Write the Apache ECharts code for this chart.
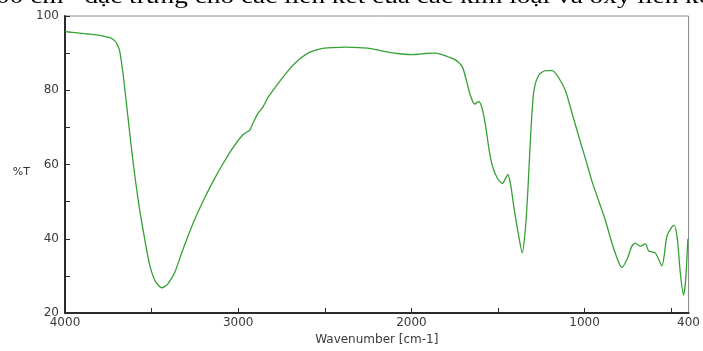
<!DOCTYPE html>
<html>
<head>
<meta charset="utf-8">
<script src="https://cdn.jsdelivr.net/npm/echarts@6/dist/echarts.min.js"></script>
<style>
  html, body { margin: 0; padding: 0; background: #fff; }
  #chart { width: 703px; height: 351px; }
</style>
</head>
<body>
<div id="chart"></div>
<script>
// FTIR spectrum: wavenumber (cm-1) vs transmittance (%T)
const wavenumbers = [
  4000, 3960, 3920, 3880, 3856, 3820, 3780, 3741, 3712, 3695,
  3683, 3664, 3645, 3626, 3607, 3587, 3568, 3549, 3529, 3510,
  3482, 3460, 3443, 3425, 3405, 3366, 3319, 3261, 3203, 3146,
  3088, 3031, 2973, 2945, 2934, 2915, 2887, 2858, 2829, 2781,
  2723, 2665, 2589, 2512, 2450, 2377, 2300, 2243, 2180, 2128,
  2080, 2040, 2000, 1960, 1920, 1880, 1860, 1840, 1810, 1782,
  1760, 1735, 1706, 1686, 1667, 1648, 1633, 1620, 1610, 1591,
  1571, 1552, 1533, 1504, 1475, 1456, 1443, 1427, 1408, 1383,
  1360, 1341, 1326, 1312, 1293, 1264, 1225, 1187, 1149, 1110,
  1072, 1034, 995, 957, 918, 880, 842, 803, 784, 755,
  727, 707, 678, 649, 630, 592, 554, 525, 496, 482,
  464, 448, 429, 416, 404, 400
];
const transmittance = [
  95.8, 95.6, 95.4, 95.2, 95.1, 94.9, 94.6, 94.2, 93.3, 92.0,
  90.3, 84.1, 76.3, 68.4, 60.6, 53.6, 47.5, 42.3, 37.1, 32.7,
  28.8, 27.4, 26.8, 27.1, 27.9, 31.0, 37.1, 44.1, 50.1, 55.4,
  60.2, 64.5, 68.0, 68.9, 69.2, 71.1, 73.7, 75.4, 78.0, 81.1,
  84.6, 87.6, 90.2, 91.3, 91.5, 91.6, 91.5, 91.3, 90.7, 90.2,
  89.9, 89.7, 89.6, 89.7, 89.9, 90.0, 90.0, 89.8, 89.4, 88.9,
  88.5, 87.8, 86.3, 83.3, 79.8, 77.2, 76.3, 76.8, 76.9, 75.0,
  70.2, 64.1, 59.7, 56.3, 54.9, 56.3, 57.3, 54.5, 48.4, 41.4,
  36.2, 43.2, 54.5, 67.6, 79.8, 84.1, 85.3, 85.3, 83.3, 79.8,
  73.7, 67.6, 61.5, 55.4, 50.1, 44.9, 38.8, 33.6, 32.3, 34.5,
  38.0, 38.8, 38.0, 38.6, 36.7, 36.2, 32.7, 40.6, 43.2, 43.6,
  39.7, 31.0, 24.9, 29.2, 39.7, 40.0
];

// Axis labels and tick positions
const xLabelValues = [4000, 3000, 2000, 1000, 400];
const xTickValues = [4000, 3500, 3000, 2500, 2000, 1500, 1000, 500];
const yLabelValues = [20, 40, 60, 80, 100];
const yTickValues = [20, 30, 40, 50, 60, 70, 80, 90, 100];

const xAxisTitle = 'Wavenumber [cm-1]';
const yAxisTitle = '%T';
const captionPre = '00 cm';
const captionSup = '-1';
const captionPost = ' đặc trưng cho các liên kết của các kim loại và oxy liên kết';

const points = wavenumbers.map((w, i) => [w, transmittance[i]]);

const labelFont = { fontFamily: 'DejaVu Sans', fontSize: 12, color: '#3a3a3a' };
const plainNumber = v => String(v);

const chart = echarts.init(document.getElementById('chart'), null, { renderer: 'canvas' });
chart.setOption({
  animation: false,
  backgroundColor: '#fff',
  grid: {
    left: 65, right: 13, top: 16, bottom: 29,
    show: true, borderColor: '#8a8a8a', borderWidth: 1, backgroundColor: 'transparent'
  },
  xAxis: {
    type: 'value',
    min: 400, max: 4000,
    inverse: true,
    name: xAxisTitle,
    nameLocation: 'middle',
    nameGap: 21,
    nameTextStyle: labelFont,
    axisLine: { show: true, lineStyle: { color: '#2b2b2b', width: 2 } },
    axisTick: { show: true, inside: true, length: 5, customValues: xTickValues, lineStyle: { color: '#2b2b2b', width: 1 } },
    axisLabel: { customValues: xLabelValues, margin: 4, formatter: plainNumber, ...labelFont },
    splitLine: { show: false }
  },
  yAxis: {
    type: 'value',
    min: 20, max: 100,
    name: yAxisTitle,
    nameLocation: 'middle',
    nameRotate: 0,
    nameGap: 35,
    nameTextStyle: { ...labelFont, fontSize: 11, color: '#333', verticalAlign: 'top', padding: [2, 0, 0, 0] },
    axisLine: { show: true, lineStyle: { color: '#2b2b2b', width: 2 } },
    axisTick: { show: true, inside: true, length: 5, customValues: yTickValues, lineStyle: { color: '#2b2b2b', width: 1 } },
    axisLabel: { customValues: yLabelValues, margin: 6, formatter: plainNumber, ...labelFont },
    splitLine: { show: false }
  },
  graphic: [{
    type: 'text',
    left: -4,
    top: -13,
    scaleX: 1.3,
    style: {
      text: '{a|' + captionPre + '}{s|' + captionSup + '}{a|' + captionPost + '}',
      rich: {
        a: { fontFamily: 'Liberation Serif', fontSize: 21, color: '#111' },
        s: { fontFamily: 'Liberation Serif', fontSize: 13, color: '#111', verticalAlign: 'top', padding: [0, 0, 8, 0] }
      }
    }
  }],
  series: [{
    type: 'line',
    data: points,
    showSymbol: false,
    smooth: 0.25,
    lineStyle: { color: '#35a035', width: 1.3 },
    clip: true
  }]
});
</script>
</body>
</html>
